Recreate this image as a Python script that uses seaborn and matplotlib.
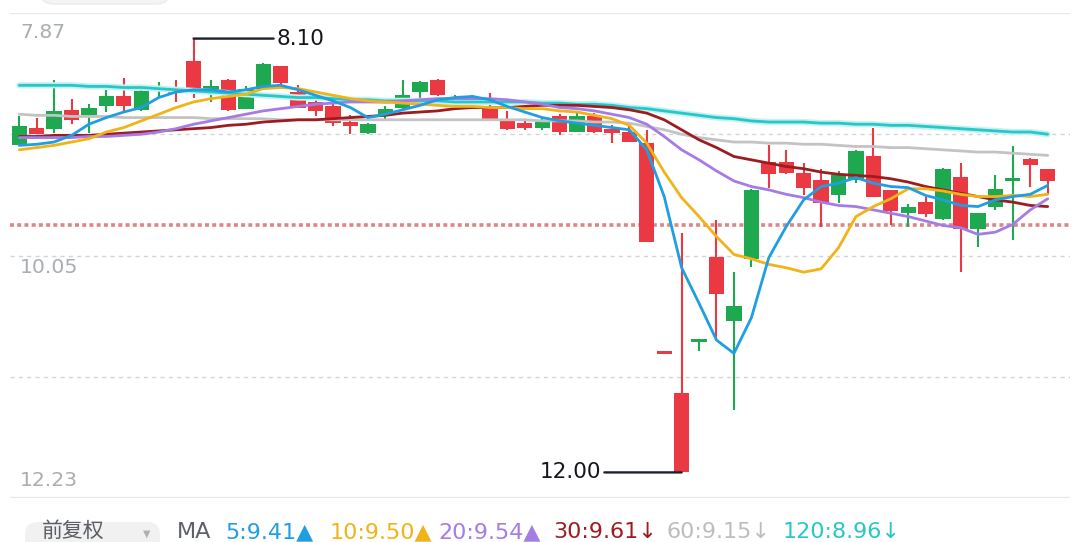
import matplotlib
matplotlib.use("Agg")
import matplotlib.pyplot as plt
import matplotlib.patheffects as pe
from matplotlib.patches import FancyBboxPatch
from matplotlib.transforms import IdentityTransform, blended_transform_factory
import numpy as np
import seaborn as sns

# ---------------- data ----------------
opens = [9.06, 8.90, 8.91, 8.74, 8.79, 8.71, 8.62, 8.74, 8.57, 8.56,
         8.30, 8.58, 8.47, 8.73, 8.55, 8.35, 8.58, 8.67, 8.71, 8.85,
         8.95, 8.79, 8.72, 8.58, 8.47, 8.67, 8.64, 8.72, 8.83, 8.86,
         8.90, 8.80, 8.94, 8.80, 8.91, 8.94, 9.04, 10.91, 11.29, 10.83,
         10.06, 10.64, 10.08, 9.21, 9.21, 9.31, 9.37, 9.51, 9.37, 9.16,
         9.46, 9.67, 9.57, 9.72, 9.34, 9.81, 9.61, 9.38, 9.18, 9.27]
highs = [9.06, 8.96, 8.95, 8.87, 8.95, 8.76, 8.76, 8.75, 8.63, 8.67,
         8.63, 8.67, 8.75, 8.73, 8.56, 8.53, 8.72, 8.80, 8.89, 8.96,
         8.96, 8.83, 8.74, 8.67, 8.62, 8.70, 8.69, 8.83, 8.92, 8.92,
         8.92, 8.97, 8.94, 8.95, 9.04, 9.03, 9.93, 10.93, 12.00, 10.91,
         10.81, 11.44, 10.15, 9.44, 9.32, 9.51, 9.79, 9.58, 9.40, 9.52,
         9.78, 9.79, 9.70, 9.73, 10.20, 9.97, 9.64, 9.91, 9.43, 9.50]
lows = [8.80, 8.81, 8.47, 8.64, 8.69, 8.56, 8.45, 8.56, 8.49, 8.47,
        8.10, 8.47, 8.46, 8.53, 8.32, 8.35, 8.52, 8.65, 8.67, 8.79,
        8.86, 8.71, 8.47, 8.48, 8.46, 8.61, 8.61, 8.59, 8.75, 8.83,
        8.81, 8.78, 8.77, 8.77, 8.88, 8.88, 8.92, 10.91, 9.85, 10.80,
        9.73, 10.20, 9.45, 9.06, 9.10, 9.22, 9.27, 9.29, 9.10, 8.90,
        9.46, 9.59, 9.52, 9.26, 9.22, 9.67, 9.33, 9.07, 9.17, 9.27]
closes = [8.89, 8.96, 8.75, 8.83, 8.72, 8.62, 8.71, 8.57, 8.53, 8.59,
          8.57, 8.53, 8.74, 8.55, 8.33, 8.50, 8.72, 8.75, 8.86, 8.89,
          8.87, 8.73, 8.61, 8.49, 8.61, 8.64, 8.67, 8.83, 8.91, 8.90,
          8.85, 8.94, 8.80, 8.94, 8.95, 9.03, 9.93, 10.93, 12.00, 10.80,
          10.40, 10.50, 9.46, 9.32, 9.31, 9.44, 9.58, 9.33, 9.11, 9.52,
          9.65, 9.61, 9.68, 9.27, 9.81, 9.67, 9.45, 9.35, 9.24, 9.38]

ma5 = [9.06, 9.05, 9.03, 8.97, 8.87, 8.81, 8.76, 8.72, 8.63, 8.58,
       8.56, 8.56, 8.58, 8.56, 8.53, 8.52, 8.56, 8.61, 8.66, 8.72,
       8.81, 8.78, 8.74, 8.70, 8.65, 8.63, 8.62, 8.65, 8.71, 8.76,
       8.81, 8.84, 8.86, 8.88, 8.90, 8.92, 9.10, 9.52, 10.16, 10.48,
       10.81, 10.93, 10.61, 10.07, 9.79, 9.55, 9.43, 9.40, 9.35, 9.40,
       9.43, 9.44, 9.51, 9.55, 9.60, 9.61, 9.55, 9.52, 9.50, 9.42]
ma10 = [9.10, 9.08, 9.06, 9.03, 9.00, 8.94, 8.90, 8.84, 8.78, 8.72,
        8.67, 8.64, 8.62, 8.60, 8.55, 8.54, 8.55, 8.58, 8.61, 8.64,
        8.66, 8.67, 8.68, 8.69, 8.70, 8.71, 8.71, 8.72, 8.72, 8.73,
        8.73, 8.75, 8.76, 8.79, 8.82, 8.88, 9.04, 9.30, 9.53, 9.70,
        9.88, 10.04, 10.08, 10.13, 10.16, 10.20, 10.17, 9.98, 9.70, 9.61,
        9.54, 9.45, 9.45, 9.47, 9.50, 9.52, 9.52, 9.51, 9.52, 9.50]
ma20 = [8.99, 8.99, 8.99, 8.99, 8.98, 8.98, 8.97, 8.96, 8.94, 8.91,
        8.87, 8.84, 8.81, 8.78, 8.75, 8.73, 8.71, 8.69, 8.68, 8.67,
        8.67, 8.67, 8.66, 8.65, 8.64, 8.64, 8.64, 8.64, 8.65, 8.67,
        8.69, 8.72, 8.73, 8.75, 8.78, 8.81, 8.87, 8.98, 9.10, 9.19,
        9.29, 9.38, 9.43, 9.46, 9.50, 9.53, 9.57, 9.60, 9.61, 9.64,
        9.67, 9.70, 9.74, 9.78, 9.80, 9.86, 9.84, 9.77, 9.64, 9.54]
ma30 = [8.98, 8.98, 8.97, 8.97, 8.97, 8.96, 8.95, 8.94, 8.93, 8.92,
        8.91, 8.90, 8.88, 8.87, 8.85, 8.84, 8.83, 8.83, 8.82, 8.81,
        8.80, 8.79, 8.77, 8.76, 8.75, 8.73, 8.72, 8.72, 8.72, 8.71,
        8.70, 8.70, 8.70, 8.71, 8.72, 8.74, 8.77, 8.83, 8.92, 9.01,
        9.08, 9.16, 9.19, 9.22, 9.25, 9.27, 9.30, 9.32, 9.33, 9.34,
        9.36, 9.39, 9.43, 9.46, 9.49, 9.52, 9.55, 9.57, 9.60, 9.61]
ma60 = [8.78, 8.79, 8.79, 8.80, 8.80, 8.80, 8.81, 8.81, 8.81, 8.81,
        8.81, 8.82, 8.82, 8.82, 8.82, 8.83, 8.83, 8.83, 8.83, 8.83,
        8.83, 8.83, 8.83, 8.83, 8.83, 8.83, 8.83, 8.83, 8.83, 8.83,
        8.84, 8.84, 8.84, 8.85, 8.85, 8.86, 8.89, 8.92, 8.96, 8.99,
        9.01, 9.03, 9.03, 9.04, 9.04, 9.05, 9.05, 9.06, 9.07, 9.07,
        9.08, 9.08, 9.09, 9.10, 9.11, 9.12, 9.12, 9.13, 9.14, 9.15]
ma120 = [8.52, 8.52, 8.52, 8.52, 8.53, 8.53, 8.54, 8.54, 8.55, 8.56,
         8.57, 8.58, 8.59, 8.60, 8.61, 8.62, 8.63, 8.63, 8.64, 8.65,
         8.65, 8.66, 8.66, 8.66, 8.66, 8.67, 8.67, 8.67, 8.67, 8.67,
         8.68, 8.68, 8.69, 8.69, 8.70, 8.72, 8.73, 8.75, 8.77, 8.79,
         8.81, 8.82, 8.84, 8.85, 8.85, 8.85, 8.86, 8.86, 8.87, 8.87,
         8.88, 8.88, 8.89, 8.90, 8.91, 8.92, 8.93, 8.94, 8.94, 8.96]

grid_levels = [8.96, 10.05, 11.14]
frame_levels = [7.87, 12.23]
axis_labels = ["7.87", "10.05", "12.23"]
last_price = 9.78
min_low, min_idx, min_text = 8.10, 10, "8.10"
max_high, max_idx, max_text = 12.00, 38, "12.00"
legend_texts = ["MA", "5:9.41▲", "10:9.50▲", "20:9.54▲", "30:9.61↓", "60:9.15↓", "120:8.96↓"]
button_text = "前复权"

# ---------------- style ----------------
sns.set_style("white")
plt.rcParams["font.family"] = ["DejaVu Sans", "Noto Sans CJK SC"]

RED = "#ea3942"
GREEN = "#1ea84f"
C5, C10, C20, C30, C60, C120 = "#1f9fe2", "#f0b318", "#a57be6", "#9c1c20", "#c3c3c3", "#27c7c7"
LEG_COLORS = ["#5d6167", C5, C10, C20, C30, "#bdbdbd", C120]

W, H = 1080, 542
fig = plt.figure(figsize=(W / 100, H / 100), dpi=100)
fig.patch.set_facecolor("white")
ax = fig.add_axes([10 / W, 44 / H, 1060 / W, 485 / H])
ax.axis("off")

idx = np.arange(len(opens))
o = np.array(opens); c = np.array(closes)
hi = np.array(highs); lo = np.array(lows)
up = c >= o
cols = np.where(up, RED, GREEN)

# frame and grid
for lv in frame_levels:
    ax.axhline(lv, color="#e7e7e7", lw=1.6, zorder=0)
for lv in grid_levels:
    ax.axhline(lv, color="#d2d5d8", lw=1.0, dashes=(3, 3), zorder=0)
ax.axhline(last_price, color="#d98787", lw=2.6, dashes=(1.1, 0.9), zorder=1)

# candles
ax.vlines(idx, lo, hi, colors=cols, linewidth=1.5, zorder=2)
body_h = np.maximum(np.abs(c - o), 0.022)
ax.bar(idx, body_h, bottom=np.minimum(o, c), width=0.88, color=cols, linewidth=0, zorder=3)

# moving averages via seaborn
for arr, col in [(ma120, C120), (ma60, C60), (ma30, C30), (ma20, C20), (ma10, C10), (ma5, C5)]:
    sns.lineplot(x=idx, y=arr, color=col, linewidth=2.0, ax=ax, zorder=4,
                 estimator=None, sort=False, legend=False)
    if col == C120:
        ax.lines[-1].set_path_effects([pe.Stroke(linewidth=4.5, foreground="#c6f1f1"), pe.Normal()])

ax.set_xlim(-0.53, 60.28)
ax.set_ylim(12.23, 7.87)

# y labels
tr = blended_transform_factory(ax.transAxes, ax.transData)
for txt, yb in zip(axis_labels, [8.097, 10.21, 12.122]):
    ax.text(10 / 1060, yb, txt, transform=tr, ha="left", va="baseline",
            fontsize=14.7, color="#a8adb4", zorder=5)

# extreme annotations
ax.annotate(min_text, xy=(min_idx, min_low), xytext=(60, 0), textcoords="offset points",
            ha="left", va="center", fontsize=15.5, color="#15161c",
            arrowprops=dict(arrowstyle="-", color="#1d2030", lw=1.7, shrinkA=0, shrinkB=0),
            zorder=6)
ax.annotate(max_text, xy=(max_idx, max_high), xytext=(-58, 0), textcoords="offset points",
            ha="right", va="center", fontsize=15.5, color="#15161c",
            arrowprops=dict(arrowstyle="-", color="#1d2030", lw=1.7, shrinkA=0, shrinkB=0),
            zorder=6)

# top partial pill
fig.patches.append(FancyBboxPatch((40, H - 4), 130, 40, boxstyle="round,pad=0,rounding_size=14",
                                  transform=IdentityTransform(), facecolor="#f4f4f4",
                                  edgecolor="#ebebeb", lw=1.0, figure=fig))
# bottom button
fig.patches.append(FancyBboxPatch((25, -25), 135, 45, boxstyle="round,pad=0,rounding_size=13",
                                  transform=IdentityTransform(), facecolor="#f1f1f2",
                                  edgecolor="none", figure=fig))
fig.text(42 / W, (H - 537) / H, button_text, fontsize=15, color="#5a5e64", ha="left", va="baseline")
fig.text(143 / W, (H - 537) / H, "▼", fontsize=7, color="#b0b0b0", ha="left", va="baseline")

# MA legend
leg_x = [177, 225, 330, 438, 553, 667, 783]
for txt, col, xp in zip(legend_texts, LEG_COLORS, leg_x):
    fig.text(xp / W, (H - 538) / H, txt, fontsize=16, color=col, ha="left", va="baseline")

fig.savefig("out.png", dpi=100, facecolor="white")
